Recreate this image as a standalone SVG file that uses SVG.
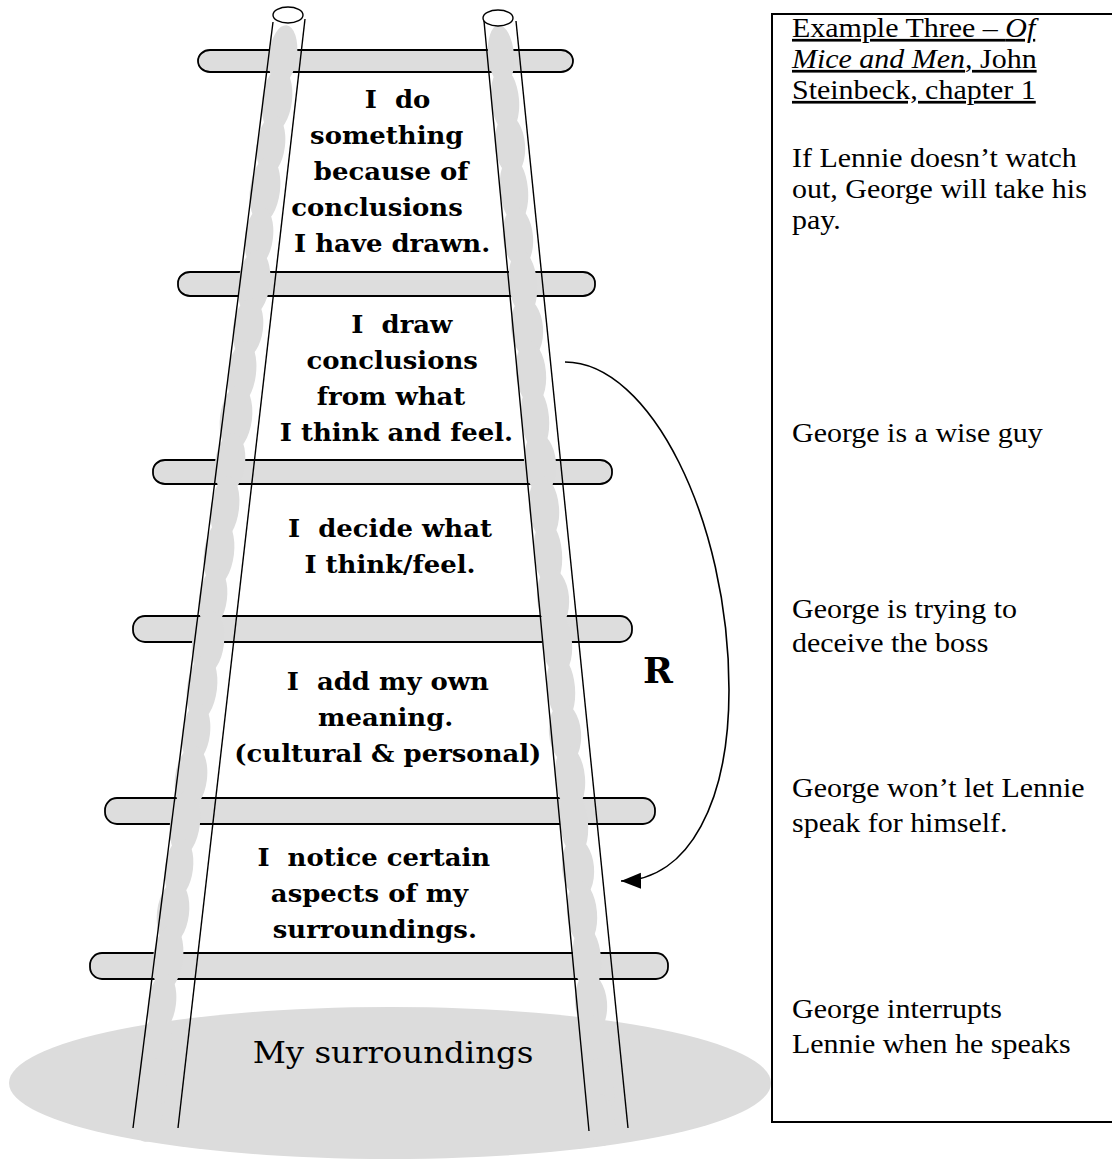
<svg xmlns="http://www.w3.org/2000/svg" width="1112" height="1160" viewBox="0 0 1112 1160">
<style>
.rung{fill:#dddddd;stroke:#000;stroke-width:1.8}
.blob{fill:#dcdcdc}
.rail{stroke:#000;stroke-width:1.4;fill:none}
.cap{fill:#fff;stroke:#000;stroke-width:1.4}
.step{font-family:"DejaVu Serif","Liberation Serif",serif;font-weight:bold;font-size:24px;fill:#000;text-anchor:middle}
.ground-label{font-family:"DejaVu Serif","Liberation Serif",serif;font-size:30px;fill:#000;text-anchor:middle}
.box-text{font-family:"Liberation Serif","Times New Roman",serif;font-size:27px;fill:#000}
.conn{fill:none;stroke:#000;stroke-width:1.6}
</style>
<defs>
<marker id="ah" markerUnits="userSpaceOnUse" markerWidth="22" markerHeight="18" viewBox="0 0 22 18" refX="20" refY="9" orient="auto">
<path d="M0,1 L20,9 L0,17 z" fill="#000"/>
</marker>
</defs>
<rect width="1112" height="1160" fill="#fff"/>

<g id="ground">
<ellipse cx="390" cy="1083" rx="381" ry="76" fill="#dcdcdc"/>
<text class="ground-label" x="393" y="1063" transform="matrix(1.08 0 0 1 -31.4 0)">My surroundings</text>
</g>

<g id="rungs">
<rect id="rung-1" class="rung" x="198" y="50" width="375" height="22" rx="12" ry="11"/>
<rect id="rung-2" class="rung" x="178" y="272" width="417" height="24" rx="12" ry="11"/>
<rect id="rung-3" class="rung" x="153" y="460" width="459" height="24" rx="12" ry="11"/>
<rect id="rung-4" class="rung" x="133" y="616" width="499" height="26" rx="12" ry="12"/>
<rect id="rung-5" class="rung" x="105" y="798" width="550" height="26" rx="12" ry="12"/>
<rect id="rung-6" class="rung" x="90" y="953" width="578" height="26" rx="12" ry="12"/>
</g>

<g id="rail-shading-left">
<ellipse class="blob" cx="283" cy="55" rx="14" ry="30" transform="rotate(7 283 55)"/>
<ellipse class="blob" cx="277" cy="100" rx="15" ry="32" transform="rotate(7 277 100)"/>
<ellipse class="blob" cx="271" cy="145" rx="14" ry="30" transform="rotate(7 271 145)"/>
<ellipse class="blob" cx="265" cy="190" rx="15" ry="33" transform="rotate(7 265 190)"/>
<ellipse class="blob" cx="259" cy="237" rx="14" ry="30" transform="rotate(7 259 237)"/>
<ellipse class="blob" cx="254" cy="283" rx="16" ry="33" transform="rotate(7 254 283)"/>
<ellipse class="blob" cx="248" cy="328" rx="15" ry="30" transform="rotate(7 248 328)"/>
<ellipse class="blob" cx="242" cy="373" rx="14" ry="32" transform="rotate(7 242 373)"/>
<ellipse class="blob" cx="236" cy="418" rx="16" ry="33" transform="rotate(7 236 418)"/>
<ellipse class="blob" cx="230" cy="463" rx="15" ry="30" transform="rotate(7 230 463)"/>
<ellipse class="blob" cx="225" cy="508" rx="14" ry="32" transform="rotate(7 225 508)"/>
<ellipse class="blob" cx="219" cy="553" rx="15" ry="33" transform="rotate(7 219 553)"/>
<ellipse class="blob" cx="213" cy="598" rx="14" ry="30" transform="rotate(7 213 598)"/>
<ellipse class="blob" cx="208" cy="643" rx="16" ry="32" transform="rotate(7 208 643)"/>
<ellipse class="blob" cx="202" cy="688" rx="15" ry="33" transform="rotate(7 202 688)"/>
<ellipse class="blob" cx="196" cy="733" rx="14" ry="30" transform="rotate(7 196 733)"/>
<ellipse class="blob" cx="191" cy="778" rx="16" ry="32" transform="rotate(7 191 778)"/>
<ellipse class="blob" cx="185" cy="823" rx="15" ry="33" transform="rotate(7 185 823)"/>
<ellipse class="blob" cx="179" cy="868" rx="14" ry="30" transform="rotate(7 179 868)"/>
<ellipse class="blob" cx="173" cy="913" rx="16" ry="32" transform="rotate(7 173 913)"/>
<ellipse class="blob" cx="168" cy="958" rx="15" ry="33" transform="rotate(7 168 958)"/>
<ellipse class="blob" cx="162" cy="1003" rx="14" ry="30" transform="rotate(7 162 1003)"/>
<ellipse class="blob" cx="156" cy="1048" rx="16" ry="33" transform="rotate(7 156 1048)"/>
<ellipse class="blob" cx="151" cy="1093" rx="15" ry="35" transform="rotate(7 151 1093)"/>
<ellipse class="blob" cx="148" cy="1116" rx="14" ry="26" transform="rotate(7 148 1116)"/>
</g>

<g id="rail-shading-right">
<ellipse class="blob" cx="501" cy="55" rx="13" ry="30" transform="rotate(-5 501 55)"/>
<ellipse class="blob" cx="505" cy="100" rx="14" ry="32" transform="rotate(-5 505 100)"/>
<ellipse class="blob" cx="510" cy="145" rx="15" ry="30" transform="rotate(-5 510 145)"/>
<ellipse class="blob" cx="514" cy="190" rx="14" ry="33" transform="rotate(-5 514 190)"/>
<ellipse class="blob" cx="518" cy="237" rx="15" ry="30" transform="rotate(-5 518 237)"/>
<ellipse class="blob" cx="523" cy="283" rx="14" ry="33" transform="rotate(-5 523 283)"/>
<ellipse class="blob" cx="527" cy="328" rx="16" ry="30" transform="rotate(-5 527 328)"/>
<ellipse class="blob" cx="531" cy="373" rx="15" ry="32" transform="rotate(-5 531 373)"/>
<ellipse class="blob" cx="535" cy="418" rx="14" ry="33" transform="rotate(-5 535 418)"/>
<ellipse class="blob" cx="540" cy="463" rx="16" ry="30" transform="rotate(-5 540 463)"/>
<ellipse class="blob" cx="544" cy="508" rx="15" ry="32" transform="rotate(-5 544 508)"/>
<ellipse class="blob" cx="548" cy="553" rx="14" ry="33" transform="rotate(-5 548 553)"/>
<ellipse class="blob" cx="553" cy="598" rx="16" ry="30" transform="rotate(-5 553 598)"/>
<ellipse class="blob" cx="557" cy="643" rx="15" ry="32" transform="rotate(-5 557 643)"/>
<ellipse class="blob" cx="561" cy="688" rx="14" ry="33" transform="rotate(-5 561 688)"/>
<ellipse class="blob" cx="565" cy="733" rx="16" ry="30" transform="rotate(-5 565 733)"/>
<ellipse class="blob" cx="570" cy="778" rx="15" ry="32" transform="rotate(-5 570 778)"/>
<ellipse class="blob" cx="574" cy="823" rx="14" ry="33" transform="rotate(-5 574 823)"/>
<ellipse class="blob" cx="578" cy="868" rx="16" ry="30" transform="rotate(-5 578 868)"/>
<ellipse class="blob" cx="582" cy="913" rx="15" ry="32" transform="rotate(-5 582 913)"/>
<ellipse class="blob" cx="587" cy="958" rx="14" ry="33" transform="rotate(-5 587 958)"/>
<ellipse class="blob" cx="591" cy="1003" rx="16" ry="30" transform="rotate(-5 591 1003)"/>
<ellipse class="blob" cx="595" cy="1048" rx="15" ry="33" transform="rotate(-5 595 1048)"/>
<ellipse class="blob" cx="599" cy="1093" rx="15" ry="35" transform="rotate(-5 599 1093)"/>
<ellipse class="blob" cx="601" cy="1120" rx="14" ry="26" transform="rotate(-5 601 1120)"/>
</g>

<g id="rails">
<line class="rail" x1="273" y1="22" x2="133" y2="1128"/>
<line class="rail" x1="305" y1="19" x2="178" y2="1128"/>
<line class="rail" x1="484" y1="21" x2="589" y2="1131"/>
<line class="rail" x1="516" y1="21" x2="628" y2="1128"/>
<ellipse class="cap" cx="288" cy="15" rx="15" ry="8"/>
<ellipse class="cap" cx="498" cy="18" rx="15" ry="8"/>
</g>

<g id="steps" transform="matrix(1.08 0 0 1 -31.2 0)">
<g id="step-act">
<text class="step" xml:space="preserve" x="397" y="108">I  do</text>
<text class="step" x="387" y="144">something</text>
<text class="step" x="391" y="180">because of</text>
<text class="step" x="378" y="216">conclusions</text>
<text class="step" x="392" y="252">I have drawn.</text>
</g>
<g id="step-conclude">
<text class="step" xml:space="preserve" x="401" y="333">I  draw</text>
<text class="step" x="392" y="369">conclusions</text>
<text class="step" x="391" y="405">from what</text>
<text class="step" x="396" y="441">I think and feel.</text>
</g>
<g id="step-decide">
<text class="step" xml:space="preserve" x="390" y="537">I  decide what</text>
<text class="step" x="390" y="573">I think/feel.</text>
</g>
<g id="step-meaning">
<text class="step" xml:space="preserve" x="388" y="690">I  add my own</text>
<text class="step" x="386" y="726">meaning.</text>
<text class="step" x="388" y="762">(cultural &amp; personal)</text>
</g>
<g id="step-notice">
<text class="step" xml:space="preserve" x="375" y="866">I  notice certain</text>
<text class="step" x="371" y="902">aspects of my</text>
<text class="step" x="376" y="938">surroundings.</text>
</g>
</g>

<g id="connectors">
<path class="conn" d="M565 362 C650 362 729 520 729 690 C729 800 690 880 621 881" marker-end="url(#ah)"/>
</g>
<g id="loop-label">
<text x="658" y="683" font-family="DejaVu Serif, Liberation Serif, serif" font-weight="bold" font-size="36" text-anchor="middle">R</text>
</g>

<g id="example-box">
<rect x="772" y="14" width="360" height="1108" fill="none" stroke="#000" stroke-width="2"/>
<g transform="matrix(1.11 0 0 1 -87.12 0)">
<text class="box-text" x="792" y="37" text-decoration="underline">Example Three – <tspan font-style="italic">Of</tspan></text>
<text class="box-text" x="792" y="68" text-decoration="underline"><tspan font-style="italic">Mice and Men</tspan>, John</text>
<text class="box-text" x="792" y="99" text-decoration="underline">Steinbeck, chapter 1</text>
<text class="box-text" x="792" y="167">If Lennie doesn’t watch</text>
<text class="box-text" x="792" y="198">out, George will take his</text>
<text class="box-text" x="792" y="229">pay.</text>
<text class="box-text" x="792" y="442">George is a wise guy</text>
<text class="box-text" x="792" y="618">George is trying to</text>
<text class="box-text" x="792" y="652">deceive the boss</text>
<text class="box-text" x="792" y="797">George won’t let Lennie</text>
<text class="box-text" x="792" y="832">speak for himself.</text>
<text class="box-text" x="792" y="1018">George interrupts</text>
<text class="box-text" x="792" y="1053">Lennie when he speaks</text>
</g>
</g>
</svg>
